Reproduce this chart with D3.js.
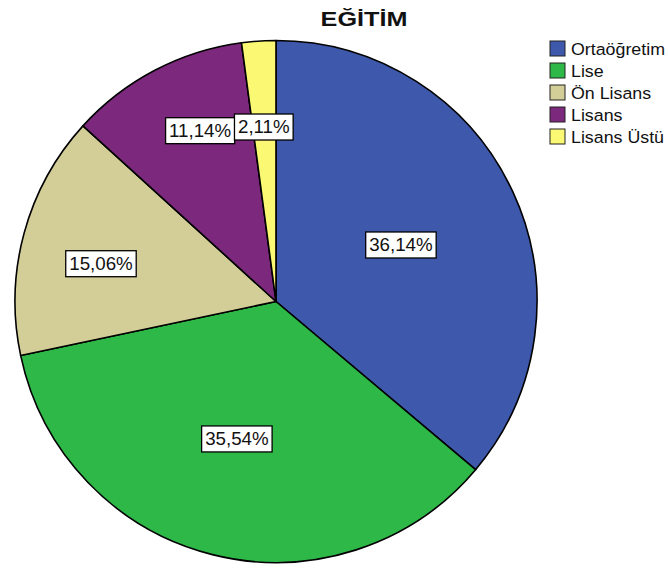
<!DOCTYPE html>
<html>
<head>
<meta charset="utf-8">
<script src="https://cdn.jsdelivr.net/npm/d3@7"></script>
<style>
  body { margin: 0; background: #fff; }
  text { font-family: "Liberation Sans", Arial, sans-serif; fill: #111; }
</style>
</head>
<body>
<div id="chart"></div>
<script>
// data
const categories = ['Ortaöğretim', 'Lise', 'Ön Lisans', 'Lisans', 'Lisans Üstü'];
const percents = [36.14, 35.54, 15.06, 11.14, 2.11];
const colors = ['#3e58ac', '#2eb848', '#d3ce97', '#7c287d', '#fbf873'];
const title = 'EĞİTİM';

// label nudges (radius fraction, degrees) so boxes don't collide, like SPSS does
const labelNudge = [[-0.007, 0.6], [0.011, 1.8], [0.044, -3], [0.063, 3.7], [0.004, -0.2]];

const width = 668, height = 572;
const cx = 276, cy = 301.5, radius = 261;
const stretch = 1.07; // the original font is drawn a bit wide

let svg = d3.select('#chart')
    .append('svg')
    .attr('width', width)
    .attr('height', height);

svg.append('text')
    .attr('transform', 'translate(364,26) scale(1.2,1)')
    .attr('text-anchor', 'middle')
    .attr('font-size', 21)
    .attr('font-weight', 'bold')
    .text(title);

let pie = d3.pie().sort(null).value(d => d)(percents);
let arc = d3.arc().innerRadius(0).outerRadius(radius);

let pieGroup = svg.append('g')
    .attr('transform', `translate(${cx},${cy})`);

pieGroup.selectAll('path')
    .data(pie)
    .enter()
    .append('path')
    .attr('d', arc)
    .attr('fill', (d, i) => colors[i])
    .attr('stroke', '#000')
    .attr('stroke-width', 1.6)
    .attr('stroke-linejoin', 'round');

// labels sit on the area centroid of each slice
let fmt = v => v.toFixed(2).replace('.', ',') + '%';
let labels = pieGroup.selectAll('g.lbl')
    .data(pie)
    .enter()
    .append('g')
    .attr('class', 'lbl')
    .attr('transform', (d, i) => {
        let half = (d.endAngle - d.startAngle) / 2;
        let rc = 2 * Math.sin(half) / (3 * half) + labelNudge[i][0];
        let a = (d.startAngle + d.endAngle) / 2 + labelNudge[i][1] * Math.PI / 180;
        return `translate(${Math.sin(a) * rc * radius},${-Math.cos(a) * rc * radius})`;
    });

labels.each(function(d) {
    let g = d3.select(this);
    let rect = g.append('rect');
    let t = g.append('text')
        .attr('transform', `scale(${stretch},1)`)
        .attr('text-anchor', 'middle')
        .attr('dy', '0.36em')
        .attr('font-size', 17.5)
        .text(fmt(d.data));
    let w = t.node().getComputedTextLength() * stretch + 7;
    let h = 26;
    rect.attr('x', -w / 2)
        .attr('y', -h / 2)
        .attr('width', w)
        .attr('height', h)
        .attr('fill', '#fff')
        .attr('stroke', '#000')
        .attr('stroke-width', 1.3);
});

// legend
let legend = svg.append('g')
    .attr('transform', 'translate(550,41)');

let rows = legend.selectAll('g')
    .data(categories)
    .enter()
    .append('g')
    .attr('transform', (d, i) => `translate(0,${i * 22})`);

rows.append('rect')
    .attr('width', 15)
    .attr('height', 15)
    .attr('fill', (d, i) => colors[i])
    .attr('stroke', '#222')
    .attr('stroke-width', 1);

rows.append('text')
    .attr('transform', `translate(21,14) scale(1.08,1)`)
    .attr('font-size', 16.5)
    .text(d => d);
</script>
</body>
</html>
